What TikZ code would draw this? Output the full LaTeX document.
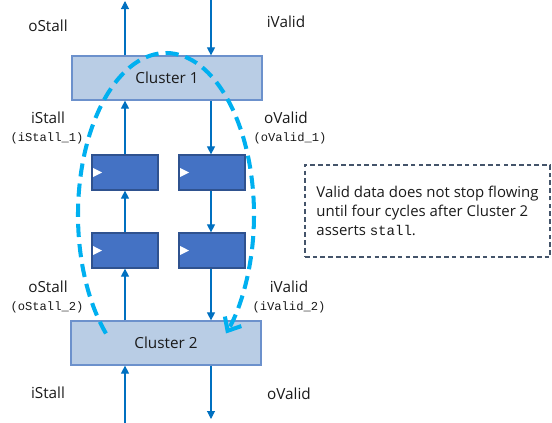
\documentclass[tikz,border=0pt]{standalone}
\usepackage{fontspec}
\setmainfont{Open Sans}
\setmonofont{Liberation Mono}
\usetikzlibrary{arrows.meta,calc}
\definecolor{wireblue}{HTML}{0070C0}
\definecolor{clusterfill}{HTML}{B9CDE5}
\definecolor{clusterdraw}{HTML}{6C91CC}
\definecolor{regfill}{HTML}{4472C4}
\definecolor{regdraw}{HTML}{2F528F}
\definecolor{stallcyan}{HTML}{00B0F0}
\definecolor{notegray}{HTML}{44546A}
\definecolor{inktext}{HTML}{1A1A1A}

\begin{document}
\begin{tikzpicture}[x=0.02cm, y=-0.02cm, >={Triangle[length=1.6mm,width=1.6mm]},
  every node/.style={font=\fontsize{8.7}{10.5}\selectfont, text=inktext},
  cluster/.style={draw=clusterdraw, fill=clusterfill, line width=0.7pt, minimum width=3.8cm, minimum height=0.88cm, inner sep=0pt},
  reg/.style={draw=regdraw, fill=regfill, line width=0.7pt, minimum width=1.32cm, minimum height=0.7cm, inner sep=0pt,
    path picture={\fill[white] ([yshift=0.1cm]path picture bounding box.west) -- ++(0.2cm,-0.1cm) -- ++(-0.2cm,-0.1cm) -- cycle;}},
  wire/.style={wireblue, line width=0.6pt, ->},
  tag/.style={font=\fontsize{6.9}{8}\ttfamily},
  stallpath/.style={stallcyan, line width=2.3pt, dash pattern=on 7.5pt off 4pt, -{Straight Barb[length=2.2mm,width=3.8mm]}},
  notebox/.style={draw=notegray, line width=0.6pt, dash pattern=on 2.6pt off 1.8pt, minimum width=4.9cm, minimum height=1.84cm,
    inner xsep=0.14cm, align=left, font=\fontsize{8.5}{11}\selectfont}]
  \useasboundingbox (0,0) rectangle (552,423);

  % clusters and pipeline registers
  \node[cluster] (c1) at (167,78) {Cluster 1};
  \node[cluster] (c2) at (166,343) {Cluster 2};
  \node[reg] (upL) at (125,172.5) {};
  \node[reg] (upR) at (212,172.5) {};
  \node[reg] (lowL) at (125,250.5) {};
  \node[reg] (lowR) at (212,250.5) {};

  \coordinate (topL) at (125,1);
  \coordinate (topR) at (211,0);
  \coordinate (botL) at (125,423);
  \coordinate (botR) at (211,419);

  % stall goes up, valid goes down
  \draw[wire] (c1.north -| upL) -- (topL);
  \draw[wire] (topR) -- (c1.north -| topR);
  \draw[wire] (upL.north) -- (c1.south -| upL);
  \draw[wire] (lowL.north) -- (upL.south);
  \draw[wire] (c2.north -| lowL) -- (lowL.south);
  \draw[wire] (botL) -- (c2.south -| botL);
  \draw[wire] (c1.south -| topR) -- (topR |- upR.north);
  \draw[wire] (upR.south -| topR) -- (topR |- lowR.north);
  \draw[wire] (lowR.south -| topR) -- (c2.north -| topR);
  \draw[wire] (c2.south -| botR) -- (botR);

  % signal names
  \node (oStallA) at (48,26) {oStall};
  \node (iValidA) at (286,22) {iValid};
  \node (iStallB) at (48,118) {iStall};
  \node[tag] (iStallBtag) at (47,138) {(iStall\_1)};
  \node (oValidB) at (286,118) {oValid};
  \node[tag] (oValidBtag) at (290,138) {(oValid\_1)};
  \node (oStallC) at (48,287) {oStall};
  \node[tag] (oStallCtag) at (47,307) {(oStall\_2)};
  \node (iValidC) at (289,287) {iValid};
  \node[tag] (iValidCtag) at (289,307) {(iValid\_2)};
  \node (iStallD) at (48,393) {iStall};
  \node (oValidD) at (289,394) {oValid};

  % four-cycle loop
  \coordinate (loopC) at (166,215);
  \draw[stallpath] ($(loopC)+(133:88 and 162)$) arc[start angle=133, end angle=407, x radius=88, y radius=162];

  \node[notebox] (note) at (427.5,211) {Valid data does not stop flowing\\until four cycles after Cluster 2\\asserts {\fontsize{8}{11}\ttfamily stall}.};
\end{tikzpicture}
\end{document}
